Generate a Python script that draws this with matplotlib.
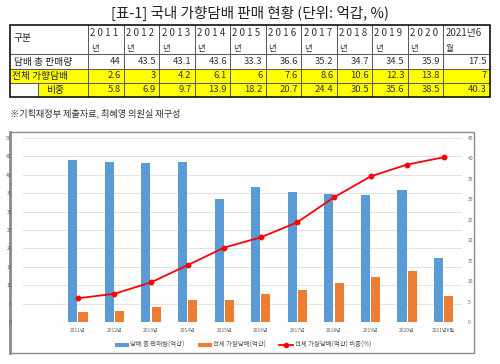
import matplotlib
matplotlib.use("Agg")
import matplotlib.pyplot as plt
from matplotlib.patches import Rectangle, Patch
from matplotlib.lines import Line2D

plt.rcParams['font.family'] = ['Noto Sans CJK KR', 'DejaVu Sans']

# ---------------- data ----------------
years = ["2011", "2012", "2013", "2014", "2015", "2016", "2017", "2018", "2019", "2020", "2021"]
header_top = ["2 0 1 1", "2 0 1 2", "2 0 1 3", "2 0 1 4", "2 0 1 5", "2 0 1 6",
              "2 0 1 7", "2 0 1 8", "2 0 1 9", "2 0 2 0", "2021년6"]
header_bot = ["년"] * 10 + ["월"]
tick_labels = ["2011년", "2012년", "2013년", "2014년", "2015년", "2016년",
               "2017년", "2018년", "2019년", "2020년", "2021년6월"]
total_sales = [44, 43.5, 43.1, 43.6, 33.3, 36.6, 35.2, 34.7, 34.5, 35.9, 17.5]
flavored = [2.6, 3, 4.2, 6.1, 6, 7.6, 8.6, 10.6, 12.3, 13.8, 7]
share = [5.8, 6.9, 9.7, 13.9, 18.2, 20.7, 24.4, 30.5, 35.6, 38.5, 40.3]
total_str = ["44", "43.5", "43.1", "43.6", "33.3", "36.6", "35.2", "34.7", "34.5", "35.9", "17.5"]
flav_str = ["2.6", "3", "4.2", "6.1", "6", "7.6", "8.6", "10.6", "12.3", "13.8", "7"]
share_str = ["5.8", "6.9", "9.7", "13.9", "18.2", "20.7", "24.4", "30.5", "35.6", "38.5", "40.3"]

title = "[표-1] 국내 가향담배 판매 현황 (단위: 억갑, %)"
note = "※기획재정부 제출자료, 최혜영 의원실 재구성"
leg_labels = ["담배 총 판매량(억갑)", "전체 가향담배(억갑)", "전체 가향담배(억갑) 비중(%)"]

W, H = 500, 364
fig = plt.figure(figsize=(5, 3.64), dpi=100)
fig.patch.set_facecolor("white")

# overlay axes in pixel coordinates for table and frame
ov = fig.add_axes([0, 0, 1, 1])
ov.set_xlim(0, W)
ov.set_ylim(H, 0)
ov.axis("off")

ov.text(250, 13, title, ha="center", va="center", fontsize=10.5, color="#222222")

# table geometry
col_x = [10, 88] + [88 + 35.5 * (i + 1) for i in range(10)] + [490]
row_y = [25, 54, 69, 83, 97]
yellow = "#FFFF00"

ov.add_patch(Rectangle((10, row_y[2]), 480, row_y[3] - row_y[2], facecolor=yellow, edgecolor="none", zorder=1))
ov.add_patch(Rectangle((38, row_y[3]), 452, row_y[4] - row_y[3], facecolor=yellow, edgecolor="none", zorder=1))

for y in row_y[1:-1]:
    ov.plot([10, 490], [y, y], color="#555555", lw=0.7, zorder=2)
for x in col_x[1:-1]:
    ov.plot([x, x], [row_y[0], row_y[4]], color="#555555", lw=0.7, zorder=2)
ov.plot([38, 38], [row_y[3], row_y[4]], color="#555555", lw=0.7, zorder=2)
ov.add_patch(Rectangle((10, row_y[0]), 480, row_y[4] - row_y[0], facecolor="none",
                       edgecolor="#111111", lw=1.2, zorder=3))

fs = 7.0
fn = 6.8
ov.text(14, 38, "구분", ha="left", va="center", fontsize=fs, color="#222222")
ov.text(14, 61.5, "담배 총 판매량", ha="left", va="center", fontsize=fs, color="#222222")
ov.text(12, 76, "전체 가향담배", ha="left", va="center", fontsize=fs, color="#222222")
ov.text(46, 90, "비중", ha="left", va="center", fontsize=fs, color="#222222")
for i in range(11):
    x0, x1 = col_x[i + 1], col_x[i + 2]
    ov.text(x0 + 2.5, 33, header_top[i], ha="left", va="center", fontsize=fs, color="#333333")
    ov.text(x0 + 3, 48, header_bot[i], ha="left", va="center", fontsize=fs - 1, color="#333333")
    ov.text(x1 - 3, 61.5, total_str[i], ha="right", va="center", fontsize=fn, color="#333333")
    ov.text(x1 - 3, 76, flav_str[i], ha="right", va="center", fontsize=fn, color="#333333")
    ov.text(x1 - 3, 90, share_str[i], ha="right", va="center", fontsize=fn, color="#333333")

ov.text(10, 113, note, ha="left", va="center", fontsize=6.6, color="#333333")

# chart frame
ov.add_patch(Rectangle((10, 132), 464, 221, facecolor="none", edgecolor="#8c8c8c", lw=1.0, zorder=3))
ov.plot([10, 10], [132, 353], color="#8c8c8c", lw=2.0, zorder=3)

# ---------------- chart ----------------
ax = fig.add_axes([23 / W, 1 - 322 / H, 439 / W, (322 - 138) / H])
xpos = list(range(1, 12))
bw = 0.25
ax.bar([x - 0.14 for x in xpos], total_sales, width=bw, color="#5B9BD5", zorder=2)
ax.bar([x + 0.14 for x in xpos], flavored, width=bw, color="#ED7D31", zorder=2)
ax.set_xlim(-0.5, 11.5)
ax.set_ylim(0, 50)
ax.set_yticks(range(0, 51, 5))
ax.grid(axis="y", color="#e3e3e3", lw=0.8, zorder=0)
ax.set_xticks(xpos)
ax.set_xticklabels(tick_labels, fontsize=3.6, color="#666666")
ax.tick_params(axis="both", length=0, labelsize=3.6, colors="#666666", pad=4)
ax.tick_params(axis="y", pad=8)
for s in ax.spines.values():
    s.set_visible(False)

ax2 = ax.twinx()
ax2.plot(xpos, share, color="#FF0000", lw=1.3, marker="o", markersize=3.2, zorder=4)
ax2.set_ylim(0, 45)
ax2.set_yticks(range(0, 46, 5))
ax2.tick_params(axis="y", length=0, labelsize=3.6, colors="#666666", pad=4)
for s in ax2.spines.values():
    s.set_visible(False)

handles = [Patch(facecolor="#5B9BD5"), Patch(facecolor="#ED7D31"),
           Line2D([0], [0], color="#FF0000", lw=1.3, marker="o", markersize=3)]
fig.legend(handles, leg_labels, loc="center", bbox_to_anchor=(243 / W, 1 - 345 / H),
           ncol=3, frameon=False, fontsize=4.6, handlelength=2.2, handleheight=0.6,
           columnspacing=2.0, handletextpad=0.3, labelcolor="#555555")

fig.savefig("out.png", dpi=100)
